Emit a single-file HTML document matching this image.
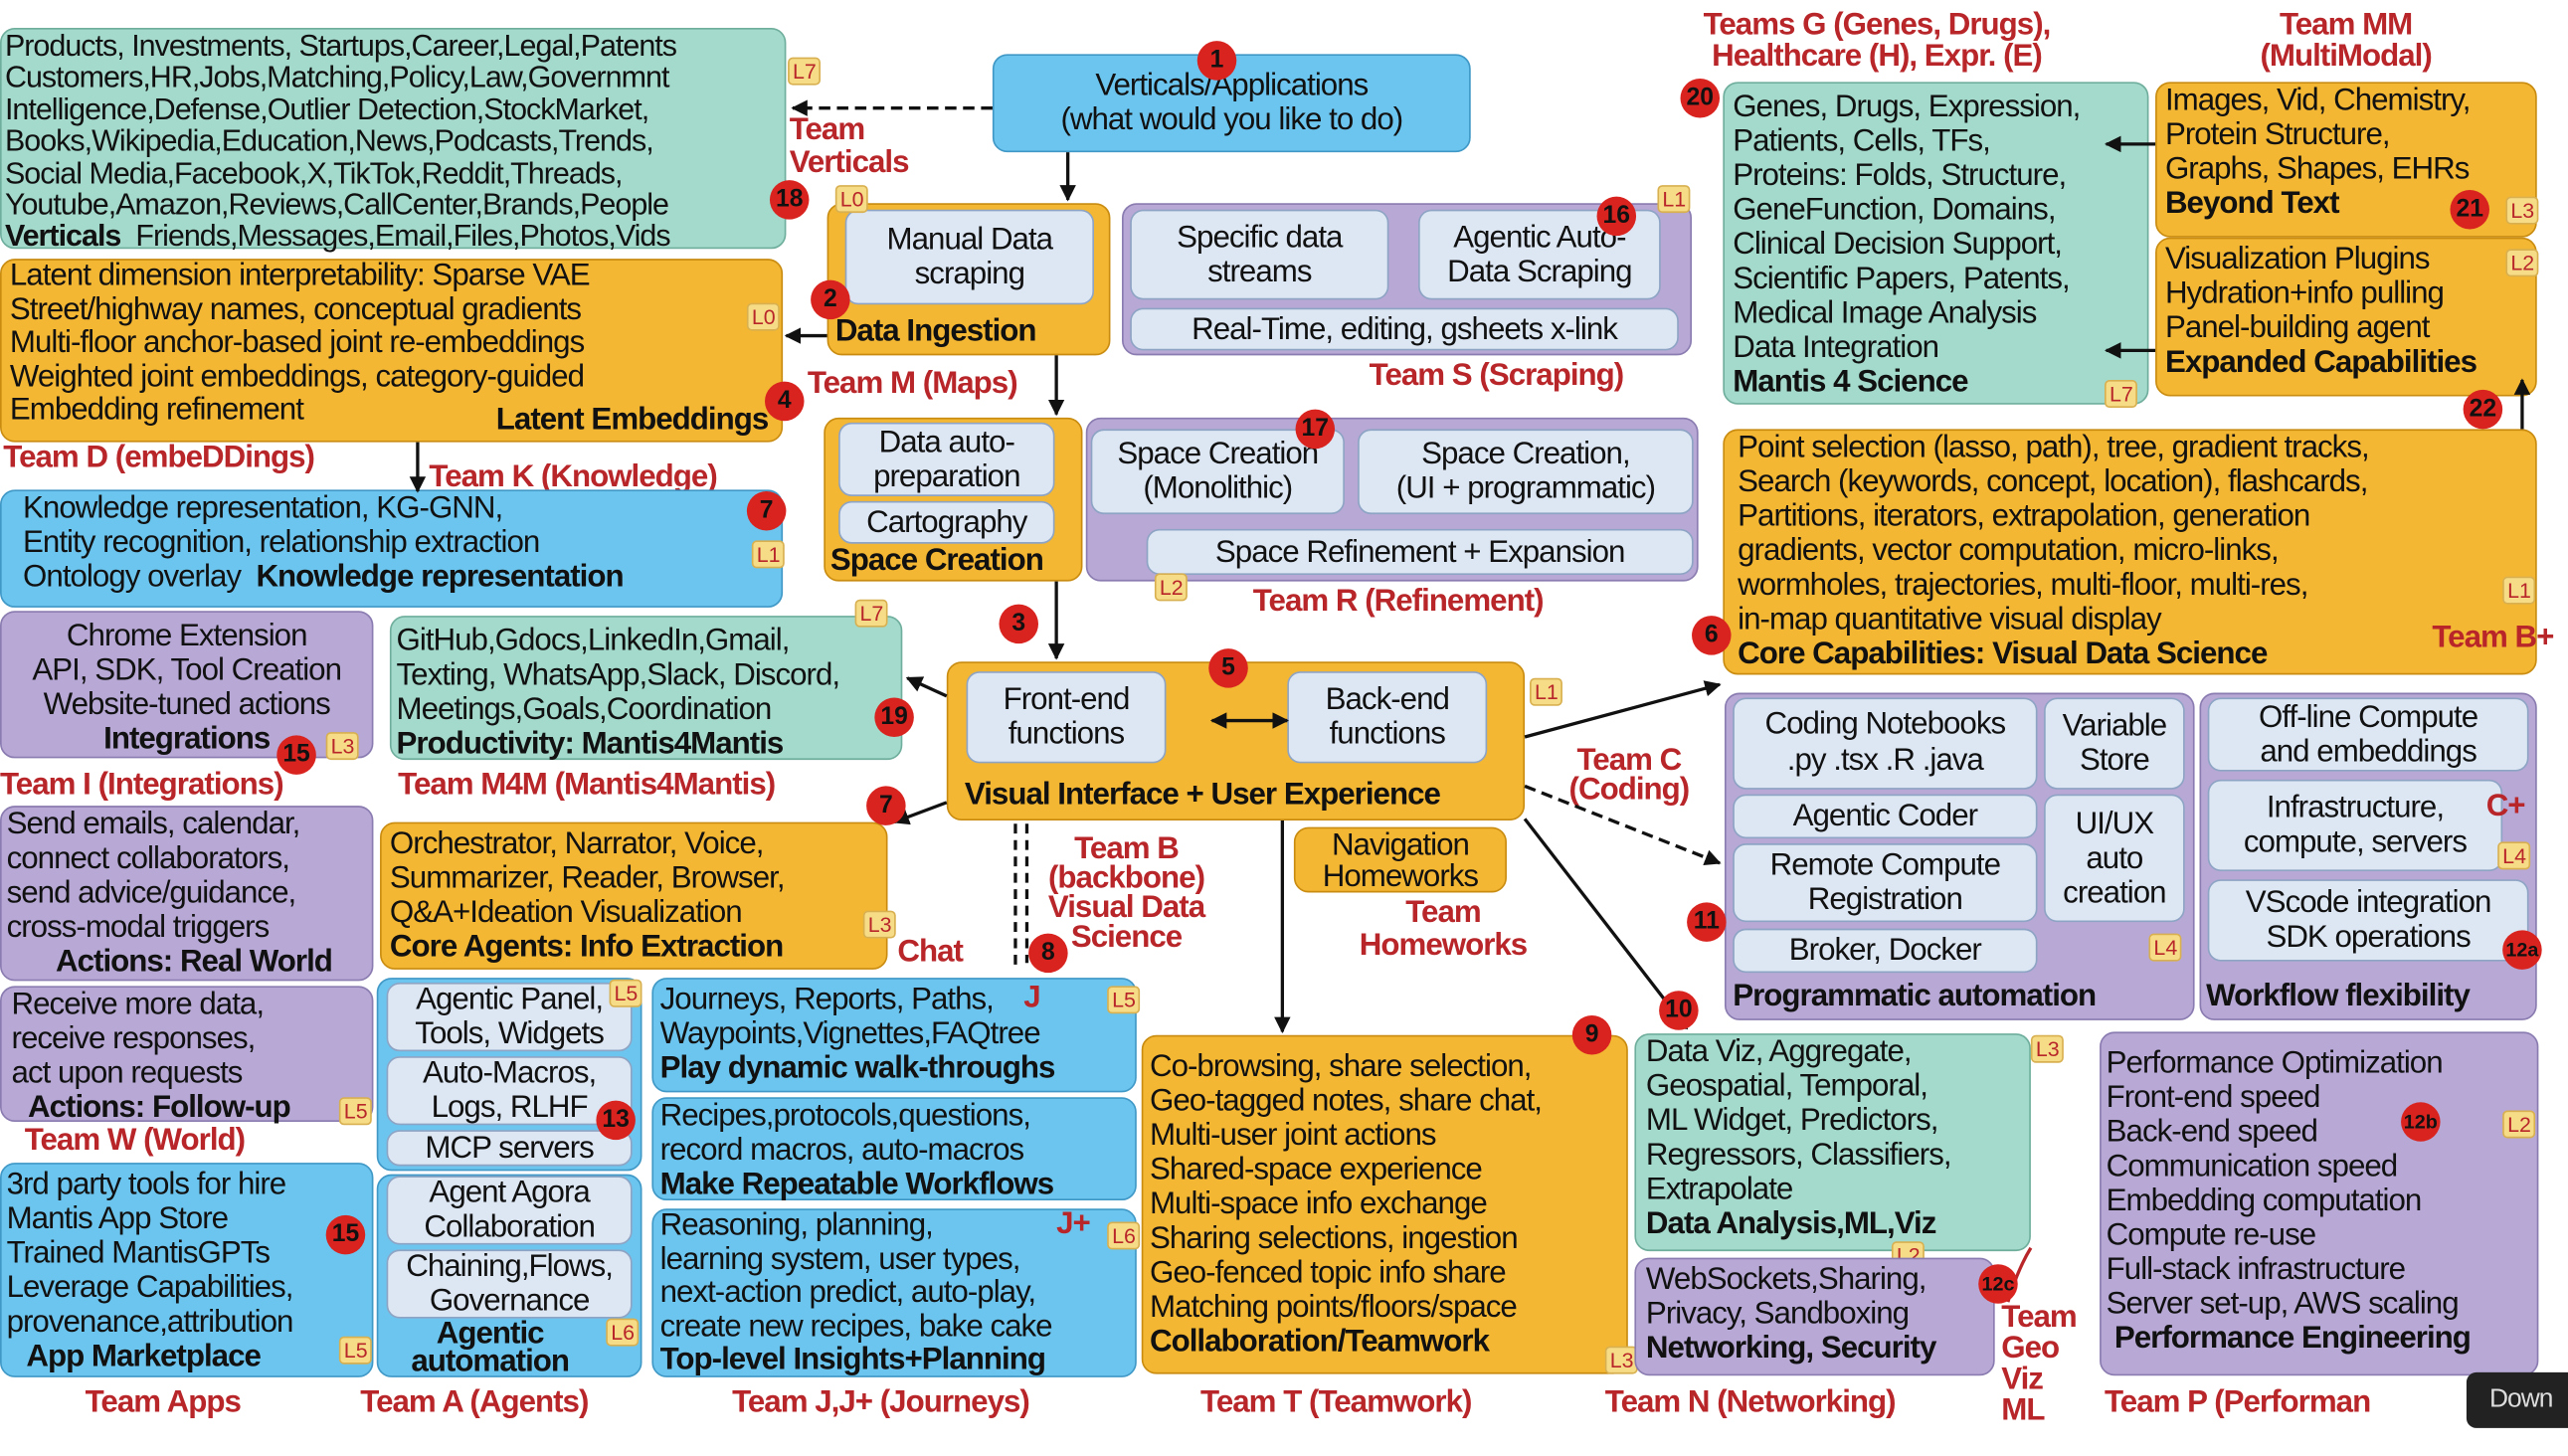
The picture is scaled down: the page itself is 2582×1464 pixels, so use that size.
<!DOCTYPE html>
<html><head><meta charset="utf-8">
<style>
html,body{margin:0;padding:0;background:#fff;overflow:hidden}
#w{width:1568px;height:889px;position:relative;transform:scale(1.6467);transform-origin:0 0;font-family:"Liberation Sans",sans-serif;color:#111;letter-spacing:-0.6px}
.b{position:absolute;border-radius:9px;box-sizing:border-box;font-size:19px;line-height:21px;overflow:visible;white-space:nowrap}
.t{background:#a3dacb;border:1.5px solid #6fae9c}
.o{background:#f4b733;border:1.5px solid #c98c10}
.u{background:#6cc5ee;border:1.5px solid #3f98c6}
.p{background:#b7a8d5;border:1.5px solid #8a7bb0}
.i{position:absolute;background:#dde7f4;border:1.5px solid #8ea4c4;border-radius:8px;box-sizing:border-box;text-align:center;font-size:19px;line-height:21px;white-space:nowrap;display:flex;align-items:center;justify-content:center}
.bo{font-weight:bold}
.r{position:absolute;color:#b8262a;font-weight:bold;font-size:19px;line-height:20px;white-space:nowrap}
.c{position:absolute;width:24px;height:24px;border-radius:50%;background:#d9231f;color:#111;font-weight:bold;font-size:15px;line-height:24px;text-align:center;letter-spacing:0;z-index:3}
.l{position:absolute;background:#f7dc88;color:#b8262a;border:1px solid #d8b050;font-size:13px;line-height:15px;padding:0 2px;border-radius:3px;letter-spacing:0}
.abs{position:absolute}
</style></head><body><div id="w">

<div class="b t" style="left:0;top:17px;width:480px;height:135px;padding:0 0 0 2px;font-size:18.5px;line-height:19.4px">Products, Investments, Startups,Career,Legal,Patents<br>Customers,HR,Jobs,Matching,Policy,Law,Governmnt<br>Intelligence,Defense,Outlier Detection,StockMarket,<br>Books,Wikipedia,Education,News,Podcasts,Trends,<br>Social Media,Facebook,X,TikTok,Reddit,Threads,<br>Youtube,Amazon,Reviews,CallCenter,Brands,People<br><span class="bo">Verticals</span>&nbsp; Friends,Messages,Email,Files,Photos,Vids</div>
<div class="l" style="left:481px;top:35px">L7</div><div class="c" style="left:470px;top:110px">18</div>
<div class="r" style="left:482px;top:70px">Team<br>Verticals</div>

<div class="b u" style="left:606px;top:33px;width:292px;height:60px;text-align:center;padding-top:8px">Verticals/Applications<br>(what would you like to do)</div>
<div class="c" style="left:731px;top:25px">1</div>

<div class="b o" style="left:505px;top:124px;width:173px;height:93px"><div class="bo abs" style="left:4px;top:67px">Data Ingestion</div></div>
<div class="i" style="left:516px;top:128px;width:152px;height:58px">Manual Data<br>scraping</div>
<div class="l" style="left:510px;top:113px">L0</div><div class="c" style="left:495px;top:171px">2</div>

<div class="b p" style="left:685px;top:124px;width:348px;height:93px"></div>
<div class="i" style="left:690px;top:128px;width:158px;height:55px">Specific data<br>streams</div>
<div class="i" style="left:866px;top:128px;width:148px;height:55px">Agentic Auto-<br>Data Scraping</div>
<div class="i" style="left:690px;top:188px;width:335px;height:26px">Real-Time, editing, gsheets x-link</div>
<div class="l" style="left:1012px;top:113px">L1</div><div class="c" style="left:975px;top:120px">16</div>
<div class="r" style="left:836px;top:220px">Team S (Scraping)</div>

<div class="b o" style="left:0;top:158px;width:478px;height:112px;padding-left:5px;line-height:20.5px">Latent dimension interpretability: Sparse VAE<br>Street/highway names, conceptual gradients<br>Multi-floor anchor-based joint re-embeddings<br>Weighted joint embeddings, category-guided<br>Embedding refinement <span class="bo abs" style="right:8px;bottom:2px">Latent Embeddings</span></div>
<div class="l" style="left:456px;top:185px">L0</div><div class="c" style="left:467px;top:233px">4</div>
<div class="r" style="left:2px;top:270px">Team D (embeDDings)</div>
<div class="r" style="left:493px;top:225px">Team M (Maps)</div>
<div class="r" style="left:262px;top:282px">Team K (Knowledge)</div>

<div class="b u" style="left:0;top:299px;width:478px;height:72px;padding-left:13px">Knowledge representation, KG-GNN,<br>Entity recognition, relationship extraction<br>Ontology overlay &nbsp;<span class="bo">Knowledge representation</span></div>
<div class="c" style="left:456px;top:300px">7</div><div class="l" style="left:459px;top:330px">L1</div>

<div class="b o" style="left:503px;top:255px;width:158px;height:100px"><div class="bo abs" style="left:3px;top:76px">Space Creation</div></div>
<div class="i" style="left:512px;top:258px;width:132px;height:45px">Data auto-<br>preparation</div>
<div class="i" style="left:512px;top:306px;width:132px;height:26px">Cartography</div>
<div class="c" style="left:610px;top:369px">3</div>

<div class="b p" style="left:663px;top:255px;width:374px;height:100px"></div>
<div class="i" style="left:666px;top:262px;width:155px;height:52px">Space Creation<br>(Monolithic)</div>
<div class="i" style="left:829px;top:262px;width:205px;height:52px">Space Creation,<br>(UI + programmatic)</div>
<div class="i" style="left:700px;top:323px;width:334px;height:28px">Space Refinement + Expansion</div>
<div class="c" style="left:791px;top:250px">17</div><div class="l" style="left:705px;top:350px">L2</div>
<div class="r" style="left:765px;top:358px">Team R (Refinement)</div>

<div class="b p" style="left:0;top:373px;width:228px;height:90px;text-align:center;padding-top:4px">Chrome Extension<br>API, SDK, Tool Creation<br>Website-tuned actions<br><span class="bo">Integrations</span></div>
<div class="l" style="left:199px;top:447px">L3</div><div class="c" style="left:169px;top:449px">15</div>
<div class="r" style="left:0;top:470px">Team I (Integrations)</div>

<div class="b t" style="left:238px;top:376px;width:313px;height:88px;padding:4px 0 0 3px">GitHub,Gdocs,LinkedIn,Gmail,<br>Texting, WhatsApp,Slack, Discord,<br>Meetings,Goals,Coordination<br><span class="bo">Productivity: Mantis4Mantis</span></div>
<div class="l" style="left:522px;top:366px">L7</div><div class="c" style="left:534px;top:426px">19</div>
<div class="r" style="left:243px;top:470px">Team M4M (Mantis4Mantis)</div>

<div class="b o" style="left:578px;top:404px;width:353px;height:97px"><div class="bo abs" style="left:10px;top:70px">Visual Interface + User Experience</div></div>
<div class="i" style="left:590px;top:410px;width:122px;height:56px">Front-end<br>functions</div>
<div class="i" style="left:786px;top:410px;width:122px;height:56px">Back-end<br>functions</div>
<div class="c" style="left:738px;top:396px">5</div><div class="l" style="left:934px;top:414px">L1</div>

<div class="b p" style="left:0;top:492px;width:228px;height:107px;padding-left:3px">Send emails, calendar,<br>connect collaborators,<br>send advice/guidance,<br>cross-modal triggers<br><span class="bo" style="padding-left:30px">Actions: Real World</span></div>

<div class="b o" style="left:232px;top:502px;width:310px;height:90px;padding:2px 0 0 5px">Orchestrator, Narrator, Voice,<br>Summarizer, Reader, Browser,<br>Q&amp;A+Ideation Visualization<br><span class="bo">Core Agents: Info Extraction</span></div>
<div class="c" style="left:529px;top:480px">7</div><div class="l" style="left:527px;top:556px">L3</div>
<div class="r" style="left:548px;top:572px">Chat</div>

<div class="b p" style="left:0;top:602px;width:228px;height:83px;padding-left:6px">Receive more data,<br>receive responses,<br>act upon requests<br><span class="bo" style="padding-left:10px">Actions: Follow-up</span></div>
<div class="l" style="left:207px;top:670px">L5</div>
<div class="r" style="left:15px;top:687px">Team W (World)</div>

<div class="b o" style="left:790px;top:505px;width:130px;height:40px;text-align:center;line-height:19px;padding-top:1px">Navigation<br>Homeworks</div>
<div class="r" style="left:830px;top:548px;text-align:center">Team<br>Homeworks</div>
<div class="r" style="left:640px;top:510px;text-align:center;line-height:18px">Team B<br>(backbone)<br>Visual Data<br>Science</div>

<div class="b u" style="left:230px;top:597px;width:162px;height:118px"></div>
<div class="i" style="left:236px;top:600px;width:150px;height:42px">Agentic Panel,<br>Tools, Widgets</div>
<div class="i" style="left:236px;top:645px;width:150px;height:42px">Auto-Macros,<br>Logs, RLHF</div>
<div class="i" style="left:236px;top:690px;width:150px;height:22px">MCP servers</div>
<div class="l" style="left:372px;top:598px">L5</div><div class="c" style="left:364px;top:672px">13</div>

<div class="b u" style="left:398px;top:597px;width:296px;height:70px;padding:2px 0 0 4px">Journeys, Reports, Paths,<br>Waypoints,Vignettes,FAQtree<br><span class="bo">Play dynamic walk-throughs</span></div>
<div class="r" style="left:625px;top:600px">J</div><div class="l" style="left:676px;top:602px">L5</div>
<div class="c" style="left:628px;top:570px">8</div>
<div class="b u" style="left:398px;top:670px;width:296px;height:63px;padding:0 0 0 4px">Recipes,protocols,questions,<br>record macros, auto-macros<br><span class="bo">Make Repeatable Workflows</span></div>
<div class="b u" style="left:398px;top:738px;width:296px;height:103px;padding:0 0 0 4px;line-height:20.5px">Reasoning, planning,<br>learning system, user types,<br>next-action predict, auto-play,<br>create new recipes, bake cake<br><span class="bo">Top-level Insights+Planning</span></div>
<div class="r" style="left:645px;top:738px">J+</div><div class="l" style="left:676px;top:746px">L6</div>

<div class="b u" style="left:0;top:710px;width:228px;height:131px;padding:2px 0 0 3px">3rd party tools for hire<br>Mantis App Store<br>Trained MantisGPTs<br>Leverage Capabilities,<br>provenance,attribution<br><span class="bo" style="padding-left:12px">App Marketplace</span></div>
<div class="c" style="left:199px;top:742px">15</div><div class="l" style="left:207px;top:816px">L5</div>

<div class="b u" style="left:230px;top:717px;width:162px;height:124px"><div class="bo abs" style="left:20px;top:88px;text-align:center;line-height:17px">Agentic<br>automation</div></div>
<div class="i" style="left:236px;top:718px;width:150px;height:42px">Agent Agora<br>Collaboration</div>
<div class="i" style="left:236px;top:763px;width:150px;height:42px">Chaining,Flows,<br>Governance</div>
<div class="l" style="left:370px;top:805px">L6</div>

<div class="b o" style="left:697px;top:632px;width:297px;height:207px;padding:8px 0 0 4px">Co-browsing, share selection,<br>Geo-tagged notes, share chat,<br>Multi-user joint actions<br>Shared-space experience<br>Multi-space info exchange<br>Sharing selections, ingestion<br>Geo-fenced topic info share<br>Matching points/floors/space<br><span class="bo">Collaboration/Teamwork</span></div>
<div class="c" style="left:960px;top:620px">9</div><div class="l" style="left:980px;top:822px">L3</div>

<div class="b t" style="left:998px;top:631px;width:242px;height:133px;padding:0 0 0 6px">Data Viz, Aggregate,<br>Geospatial, Temporal,<br>ML Widget, Predictors,<br>Regressors, Classifiers,<br>Extrapolate<br><span class="bo">Data Analysis,ML,Viz</span></div>
<div class="c" style="left:1013px;top:605px">10</div><div class="l" style="left:1240px;top:632px">L3</div><div class="l" style="left:1155px;top:758px">L2</div>

<div class="b p" style="left:998px;top:768px;width:220px;height:72px;padding:2px 0 0 6px">WebSockets,Sharing,<br>Privacy, Sandboxing<br><span class="bo">Networking, Security</span></div>
<div class="c" style="left:1208px;top:772px;font-size:12px">12c</div>
<div class="r" style="left:1222px;top:795px;line-height:19px">Team<br>Geo<br>Viz<br>ML</div>

<div class="b p" style="left:1053px;top:423px;width:287px;height:200px"><div class="bo abs" style="left:4px;top:174px">Programmatic automation</div></div>
<div class="i" style="left:1058px;top:426px;width:186px;height:56px;line-height:22px">Coding Notebooks<br>.py .tsx .R .java</div>
<div class="i" style="left:1248px;top:426px;width:86px;height:56px">Variable<br>Store</div>
<div class="i" style="left:1058px;top:485px;width:186px;height:27px">Agentic Coder</div>
<div class="i" style="left:1058px;top:515px;width:186px;height:48px">Remote Compute<br>Registration</div>
<div class="i" style="left:1248px;top:485px;width:86px;height:78px">UI/UX<br>auto<br>creation</div>
<div class="i" style="left:1058px;top:567px;width:186px;height:27px">Broker, Docker</div>
<div class="l" style="left:1312px;top:570px">L4</div><div class="c" style="left:1030px;top:551px">11</div>
<div class="r" style="left:958px;top:456px;text-align:center;line-height:18px">Team C<br>(Coding)</div>

<div class="b p" style="left:1343px;top:423px;width:206px;height:200px"><div class="bo abs" style="left:3px;top:174px">Workflow flexibility</div></div>
<div class="i" style="left:1348px;top:426px;width:196px;height:45px">Off-line Compute<br>and embeddings</div>
<div class="i" style="left:1348px;top:476px;width:180px;height:56px">Infrastructure,<br>compute, servers</div>
<div class="i" style="left:1348px;top:537px;width:196px;height:50px">VScode integration<br>SDK operations</div>
<div class="r" style="left:1518px;top:483px">C+</div><div class="l" style="left:1525px;top:514px">L4</div>
<div class="c" style="left:1528px;top:568px;font-size:12px">12a</div>

<div class="b p" style="left:1282px;top:630px;width:268px;height:210px;padding:8px 0 0 3px">Performance Optimization<br>Front-end speed<br>Back-end speed<br>Communication speed<br>Embedding computation<br>Compute re-use<br>Full-stack infrastructure<br>Server set-up, AWS scaling<br><span class="bo" style="padding-left:5px">Performance Engineering</span></div>
<div class="c" style="left:1466px;top:673px;font-size:12px">12b</div><div class="l" style="left:1528px;top:678px">L2</div>

<div class="b o" style="left:1052px;top:262px;width:497px;height:150px;padding:0 0 0 8px">Point selection (lasso, path), tree, gradient tracks,<br>Search (keywords, concept, location), flashcards,<br>Partitions, iterators, extrapolation, generation<br>gradients, vector computation, micro-links,<br>wormholes, trajectories, multi-floor, multi-res,<br>in-map quantitative visual display<br><span class="bo">Core Capabilities: Visual Data Science</span></div>
<div class="l" style="left:1528px;top:352px">L1</div><div class="c" style="left:1033px;top:376px">6</div>
<div class="r" style="left:1485px;top:380px">Team B+</div>

<div class="b t" style="left:1052px;top:50px;width:260px;height:197px;padding:4px 0 0 5px">Genes, Drugs, Expression,<br>Patients, Cells, TFs,<br>Proteins: Folds, Structure,<br>GeneFunction, Domains,<br>Clinical Decision Support,<br>Scientific Papers, Patents,<br>Medical Image Analysis<br>Data Integration<br><span class="bo">Mantis 4 Science</span></div>
<div class="l" style="left:1285px;top:232px">L7</div><div class="c" style="left:1026px;top:48px">20</div>
<div class="r" style="left:1040px;top:6px;text-align:center;line-height:19px">Teams G (Genes, Drugs),<br>Healthcare (H), Expr. (E)</div>

<div class="b o" style="left:1316px;top:50px;width:233px;height:95px;padding:0 0 0 5px">Images, Vid, Chemistry,<br>Protein Structure,<br>Graphs, Shapes, EHRs<br><span class="bo">Beyond Text</span></div>
<div class="c" style="left:1496px;top:116px">21</div><div class="l" style="left:1530px;top:120px">L3</div>
<div class="r" style="left:1380px;top:6px;text-align:center;line-height:19px">Team MM<br>(MultiModal)</div>

<div class="b o" style="left:1316px;top:145px;width:233px;height:97px;padding:2px 0 0 5px">Visualization Plugins<br>Hydration+info pulling<br>Panel-building agent<br><span class="bo">Expanded Capabilities</span></div>
<div class="l" style="left:1530px;top:152px">L2</div><div class="c" style="left:1504px;top:238px">22</div>

<div class="r" style="left:52px;top:847px">Team Apps</div>
<div class="r" style="left:220px;top:847px">Team A (Agents)</div>
<div class="r" style="left:447px;top:847px">Team J,J+ (Journeys)</div>
<div class="r" style="left:733px;top:847px">Team T (Teamwork)</div>
<div class="r" style="left:980px;top:847px">Team N (Networking)</div>
<div class="r" style="left:1285px;top:847px">Team P (Performan</div>

<svg class="abs" style="left:0;top:0;z-index:2" width="1568" height="889">
<defs><marker id="a" markerWidth="10" markerHeight="10" refX="9" refY="5" orient="auto" markerUnits="userSpaceOnUse"><path d="M0,0 L10,5 L0,10 z" fill="#111"/></marker>
<marker id="s" markerWidth="10" markerHeight="10" refX="1" refY="5" orient="auto" markerUnits="userSpaceOnUse"><path d="M10,0 L0,5 L10,10 z" fill="#111"/></marker></defs>
<g stroke="#111" stroke-width="2" fill="none">
<path d="M606,66 L484,66" stroke-dasharray="7,4" marker-end="url(#a)"/>
<path d="M652,93 L652,122" marker-end="url(#a)"/>
<path d="M505,205 L480,205" marker-end="url(#a)"/>
<path d="M645,217 L645,253" marker-end="url(#a)"/>
<path d="M255,270 L255,300" marker-end="url(#a)"/>
<path d="M645,355 L645,402" marker-end="url(#a)"/>
<path d="M578,425 L554,414" marker-end="url(#a)"/>
<path d="M578,490 L546,502" marker-end="url(#a)"/>
<path d="M740,440 L786,440" marker-end="url(#a)" marker-start="url(#s)"/>
<path d="M931,450 L1050,418" marker-end="url(#a)"/>
<path d="M931,480 L1050,527" stroke-dasharray="7,4" marker-end="url(#a)"/>
<path d="M783,501 L783,630" marker-end="url(#a)"/>
<path d="M931,500 L1030,628" marker-end="url(#a)"/>
<path d="M620,503 L620,590" stroke-dasharray="6,4"/>
<path d="M627,503 L627,588" stroke-dasharray="6,4"/>
<path d="M1316,88 L1286,88" marker-end="url(#a)"/>
<path d="M1316,214 L1286,214" marker-end="url(#a)"/>
<path d="M1540,262 L1540,232" marker-end="url(#a)"/>
</g>
<path d="M1226,795 Q1232,775 1240,762" stroke="#b8262a" stroke-width="2" fill="none"/>
</svg>
<div class="abs" style="left:1506px;top:838px;width:62px;height:34px;background:#222;color:#ddd;border-radius:6px 0 0 6px;font-size:16px;line-height:34px;padding-left:14px;box-sizing:border-box;z-index:4">Down</div>
</div></body></html>
